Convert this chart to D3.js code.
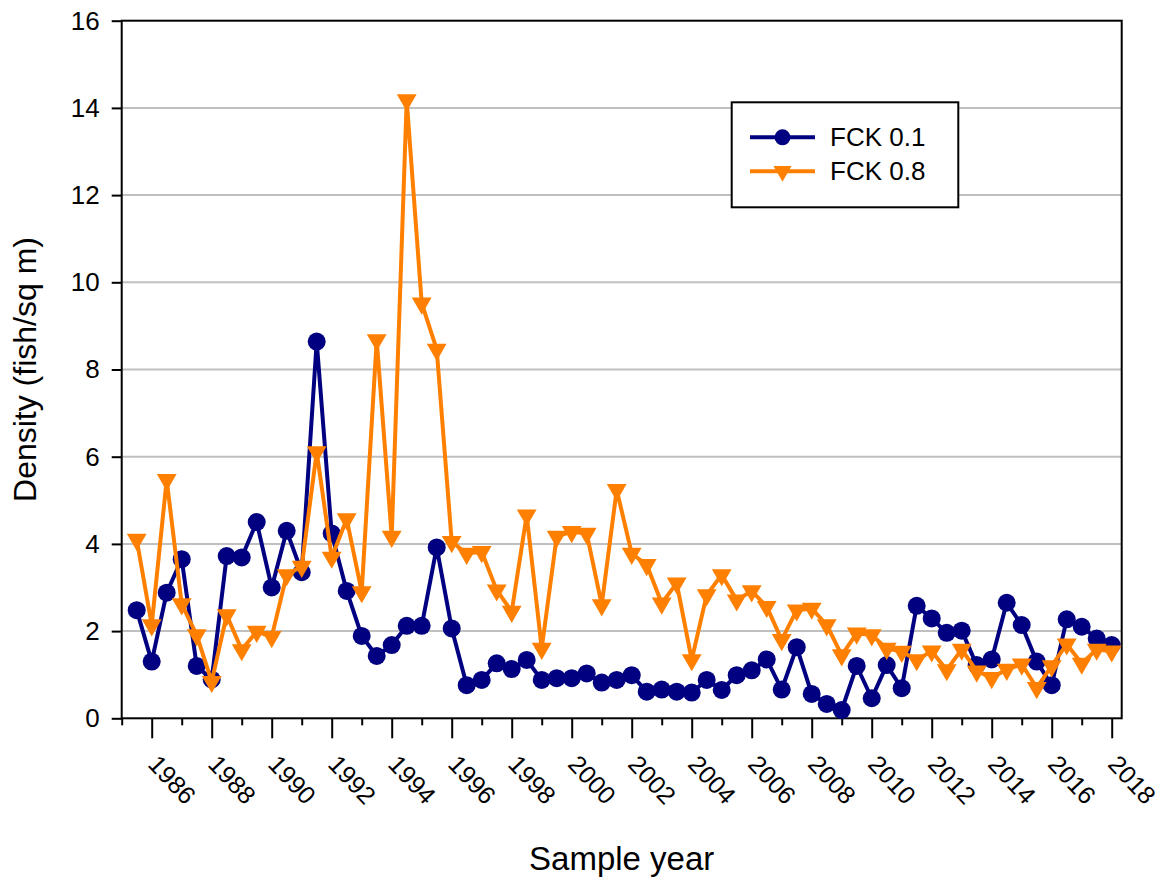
<!DOCTYPE html>
<html lang="en">
<head>
<meta charset="UTF-8">
<title>FCK density</title>
<style>
  body { margin: 0; background: #fff; }
  text { font-family: "Liberation Sans", Arial, sans-serif; fill: #000; }
</style>
</head>
<body>
<svg id="chart" width="1160" height="880"></svg>
<script src="https://cdnjs.cloudflare.com/ajax/libs/d3/7.8.5/d3.min.js"></script>
<script>
// sample years (twice a year)
var years = [1985.5, 1986, 1986.5, 1987, 1987.5, 1988, 1988.5, 1989, 1989.5, 1990,
  1990.5, 1991, 1991.5, 1992, 1992.5, 1993, 1993.5, 1994, 1994.5, 1995,
  1995.5, 1996, 1996.5, 1997, 1997.5, 1998, 1998.5, 1999, 1999.5, 2000,
  2000.5, 2001, 2001.5, 2002, 2002.5, 2003, 2003.5, 2004, 2004.5, 2005,
  2005.5, 2006, 2006.5, 2007, 2007.5, 2008, 2008.5, 2009, 2009.5, 2010,
  2010.5, 2011, 2011.5, 2012, 2012.5, 2013, 2013.5, 2014, 2014.5, 2015,
  2015.5, 2016, 2016.5, 2017, 2017.5, 2018];

var fck01 = [2.48, 1.30, 2.88, 3.65, 1.20, 0.89, 3.72, 3.69, 4.50, 3.00,
  4.30, 3.35, 8.64, 4.24, 2.92, 1.89, 1.43, 1.68, 2.12, 2.12,
  3.92, 2.06, 0.76, 0.88, 1.26, 1.13, 1.34, 0.88, 0.92, 0.92,
  1.03, 0.82, 0.88, 0.99, 0.61, 0.66, 0.61, 0.59, 0.88, 0.65,
  0.99, 1.10, 1.35, 0.66, 1.63, 0.56, 0.33, 0.19, 1.20, 0.46,
  1.22, 0.69, 2.58, 2.29, 1.96, 2.01, 1.22, 1.35, 2.65, 2.14,
  1.30, 0.76, 2.27, 2.10, 1.83, 1.68];

var fck08 = [4.10, 2.14, 5.47, 2.62, 1.91, 0.84, 2.37, 1.57, 1.99, 1.87,
  3.29, 3.48, 6.11, 3.69, 4.57, 2.90, 8.68, 4.17, 14.18, 9.52,
  8.46, 4.05, 3.78, 3.82, 2.94, 2.45, 4.66, 1.60, 4.17, 4.28,
  4.24, 2.60, 5.24, 3.78, 3.52, 2.64, 3.10, 1.34, 2.83, 3.29,
  2.71, 2.92, 2.56, 1.80, 2.48, 2.52, 2.14, 1.45, 1.95, 1.91,
  1.60, 1.53, 1.34, 1.54, 1.11, 1.58, 1.08, 0.93, 1.12, 1.24,
  0.70, 1.20, 1.70, 1.26, 1.58, 1.54];

var yTicks = [0, 2, 4, 6, 8, 10, 12, 14, 16];
var gridTicks = [2, 4, 6, 8, 10, 12, 14];
var xMajor = [1986, 1988, 1990, 1992, 1994, 1996, 1998, 2000, 2002, 2004, 2006, 2008, 2010, 2012, 2014, 2016, 2018];
var xMinor = [1985, 1987, 1989, 1991, 1993, 1995, 1997, 1999, 2001, 2003, 2005, 2007, 2009, 2011, 2013, 2015, 2017];

var blue = "#000080", orange = "#ff8000";

var svg = d3.select("#chart");
var pLeft = 121.7, pRight = 1121.7, pTop = 20.7, pBottom = 718.3;

var x = d3.scaleLinear().domain([1985, 2018.333]).range([pLeft, pRight]);
var y = d3.scaleLinear().domain([0, 16]).range([pBottom, pTop]);

// grid lines
svg.append("g").selectAll("line").data(gridTicks).enter().append("line")
  .attr("x1", pLeft).attr("x2", pRight)
  .attr("y1", function(d) { return y(d); }).attr("y2", function(d) { return y(d); })
  .attr("stroke", "#c0c0c0").attr("stroke-width", 2);

// y axis
var yAxis = svg.append("g")
  .attr("transform", "translate(" + pLeft + ",0)")
  .call(d3.axisLeft(y).tickValues(yTicks).tickSize(10).tickPadding(12).tickFormat(d3.format("d")));
yAxis.select(".domain").remove();
yAxis.selectAll("line").attr("stroke", "#000").attr("stroke-width", 2);
yAxis.selectAll("text").style("font-size", "26px").attr("fill", "#000");

// x axis: major and minor ticks
var xAxis = svg.append("g").attr("transform", "translate(0," + pBottom + ")");
xAxis.call(d3.axisBottom(x).tickValues(xMajor).tickSize(20).tickFormat(""));
xAxis.select(".domain").remove();
xAxis.selectAll("line").attr("stroke", "#000").attr("stroke-width", 2);
var xAxisMinor = svg.append("g").attr("transform", "translate(0," + pBottom + ")");
xAxisMinor.call(d3.axisBottom(x).tickValues(xMinor).tickSize(7).tickFormat(""));
xAxisMinor.select(".domain").remove();
xAxisMinor.selectAll("line").attr("stroke", "#000").attr("stroke-width", 2);

svg.append("g").selectAll("text").data(xMajor).enter().append("text")
  .attr("transform", function(d) { return "translate(" + (x(d) - 5) + "," + (pBottom + 47) + ") rotate(47)"; })
  .style("font-size", "25px")
  .text(function(d) { return d; });

// plot frame
svg.append("rect")
  .attr("x", pLeft).attr("y", pTop)
  .attr("width", pRight - pLeft).attr("height", pBottom - pTop)
  .attr("fill", "none").attr("stroke", "#000").attr("stroke-width", 2);

// series
var pts01 = years.map(function(d, i) { return [d, fck01[i]]; });
var pts08 = years.map(function(d, i) { return [d, fck08[i]]; });
var line = d3.line().x(function(d) { return x(d[0]); }).y(function(d) { return y(d[1]); });

svg.append("path").datum(pts01).attr("d", line)
  .attr("fill", "none").attr("stroke", blue).attr("stroke-width", 4).attr("stroke-linejoin", "round");
svg.append("g").selectAll("circle").data(pts01).enter().append("circle")
  .attr("cx", function(d) { return x(d[0]); })
  .attr("cy", function(d) { return y(d[1]); })
  .attr("r", 9).attr("fill", blue);

var tri = d3.symbol().type(d3.symbolTriangle).size(170);
svg.append("path").datum(pts08).attr("d", line)
  .attr("fill", "none").attr("stroke", orange).attr("stroke-width", 4).attr("stroke-linejoin", "round");
svg.append("g").selectAll("path").data(pts08).enter().append("path")
  .attr("d", tri)
  .attr("transform", function(d) { return "translate(" + x(d[0]) + "," + y(d[1]) + ") rotate(180)"; })
  .attr("fill", orange);

// axis titles
svg.append("text")
  .attr("transform", "translate(36," + ((pTop + pBottom) / 2) + ") rotate(-90)")
  .attr("text-anchor", "middle")
  .style("font-size", "32px")
  .text("Density (fish/sq m)");
svg.append("text")
  .attr("x", (pLeft + pRight) / 2).attr("y", 870)
  .attr("text-anchor", "middle")
  .style("font-size", "33px")
  .text("Sample year");

// legend
var legend = svg.append("g");
legend.append("rect")
  .attr("x", 731.7).attr("y", 102.3).attr("width", 226.6).attr("height", 105)
  .attr("fill", "#fff").attr("stroke", "#000").attr("stroke-width", 2);
var legendItems = [
  {name: "FCK 0.1", color: blue, shape: "circle"},
  {name: "FCK 0.8", color: orange, shape: "triangle"}
];
legendItems.forEach(function(d, i) {
  var ly = 137.3 + i * 34;
  legend.append("line").attr("x1", 750).attr("x2", 815).attr("y1", ly).attr("y2", ly)
    .attr("stroke", d.color).attr("stroke-width", 4);
  if (d.shape == "circle") {
    legend.append("circle").attr("cx", 782.5).attr("cy", ly).attr("r", 8).attr("fill", d.color);
  } else {
    legend.append("path").attr("d", d3.symbol().type(d3.symbolTriangle).size(140))
      .attr("transform", "translate(782.5," + ly + ") rotate(180)").attr("fill", d.color);
  }
  legend.append("text").attr("x", 830).attr("y", ly + 9).style("font-size", "26px").text(d.name);
});
</script>
</body>
</html>
